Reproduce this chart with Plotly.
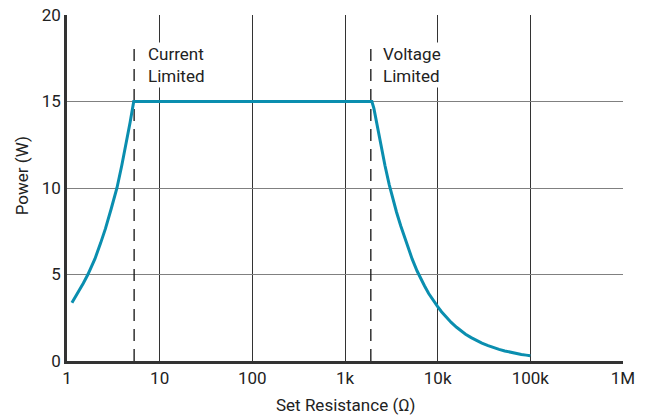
import plotly.graph_objects as go

# Curve (resistance in ohms, power in W)
resistance = [1.13, 1.3, 1.5, 1.68, 1.85, 2.0, 2.3, 2.6, 3.0, 3.46, 3.9, 4.4, 4.8, 5.25,
              1950, 2050, 2200, 2400, 2700, 3000, 3300, 3600, 4000, 4600, 5300, 6000, 6500,
              7200, 8000, 9000, 10000, 11000, 12500, 14000, 16000, 18000, 20000, 23000,
              26000, 30000, 35000, 40000, 46000, 53000, 61000, 70000, 80000, 90000, 100000]
power = [3.37, 3.9, 4.5, 5.0, 5.5, 5.9, 6.8, 7.65, 8.8, 10.0, 11.3, 12.7, 13.8, 15.0,
         15.0, 14.6, 13.7, 12.6, 11.3, 10.2, 9.3, 8.6, 7.8, 6.8, 5.9, 5.2, 4.8,
         4.35, 3.9, 3.48, 3.14, 2.85, 2.5, 2.23, 1.95, 1.73, 1.55, 1.35,
         1.19, 1.03, 0.89, 0.77, 0.67, 0.58, 0.5, 0.44, 0.38, 0.34, 0.30]

# Limit markers (x position in ohms, top of dashed line in W)
current_limit_x = 5.3
voltage_limit_x = 1900
limit_line_top = 18.4

x_tickvals = [1, 10, 100, 1000, 10000, 100000, 1000000]
x_ticktext = ["1", "10", "100", "1k", "10k", "100k", "1M"]
y_tickvals = [0, 5, 10, 15, 20]

labels = ["Current<br>Limited", "Voltage<br>Limited"]
x_title = "Set Resistance (Ω)"
y_title = "Power (W)"

font_family = "Roboto, 'DejaVu Sans', sans-serif"
text_color = "#222222"

fig = go.Figure()

for xv in (current_limit_x, voltage_limit_x):
    fig.add_trace(go.Scatter(
        x=[xv, xv], y=[0, limit_line_top], mode="lines",
        line=dict(color="#111111", width=1.3, dash="12px,8px"),
        hoverinfo="skip", showlegend=False))

fig.add_trace(go.Scatter(
    x=resistance, y=power, mode="lines",
    line=dict(color="#0a8eaf", width=3),
    showlegend=False))

fig.add_annotation(x=0.85, y=18.45, xref="x", yref="y", text=labels[0],
                   showarrow=False, xanchor="left", yanchor="top", align="left",
                   bgcolor="white", borderpad=1,
                   font=dict(family=font_family, size=17, color=text_color))
fig.add_annotation(x=3.39, y=18.45, xref="x", yref="y", text=labels[1],
                   showarrow=False, xanchor="left", yanchor="top", align="left",
                   bgcolor="white", borderpad=1,
                   font=dict(family=font_family, size=17, color=text_color))

# Axis titles
fig.add_annotation(x=0.5, y=-0.128, xref="paper", yref="paper", text=x_title,
                   showarrow=False, xanchor="center", yanchor="middle",
                   font=dict(family=font_family, size=17, color=text_color))
fig.add_annotation(x=-0.082, y=0.535, xref="paper", yref="paper", text=y_title,
                   showarrow=False, xanchor="center", yanchor="middle", textangle=-90,
                   font=dict(family=font_family, size=17, color=text_color))

fig.update_layout(
    width=645, height=417,
    margin=dict(l=67, r=22, t=15, b=56),
    paper_bgcolor="white", plot_bgcolor="white",
    font=dict(family=font_family, size=17, color=text_color),
    xaxis=dict(
        type="log", range=[0, 6], automargin=False,
        tickvals=x_tickvals, ticktext=x_ticktext,
        showgrid=True, gridcolor="#333333", gridwidth=1,
        showline=True, linecolor="#333333", linewidth=2.5,
        ticks="", zeroline=False,
        tickfont=dict(size=17, color=text_color),
    ),
    yaxis=dict(
        range=[0, 20], tickvals=y_tickvals, automargin=False,
        showgrid=True, gridcolor="#808080", gridwidth=1.2,
        showline=True, linecolor="#333333", linewidth=2.5,
        ticks="", zeroline=False,
        tickfont=dict(size=17, color=text_color),
    ),
)

fig.write_html("out.html", config={"displayModeBar": False},
               post_script="document.body.style.margin='0';")
